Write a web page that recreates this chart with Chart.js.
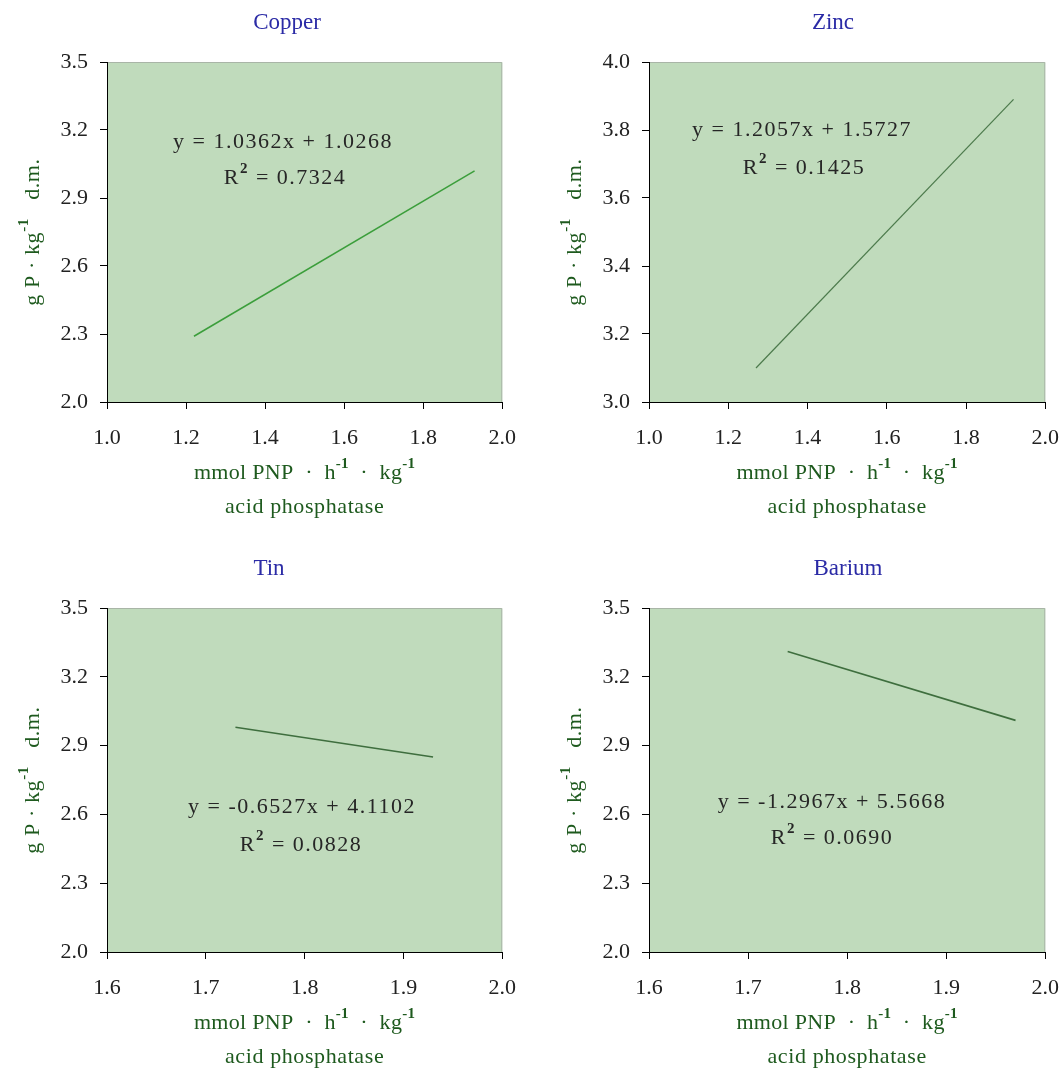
<!DOCTYPE html>
<html>
<head>
<meta charset="utf-8">
<title>Acid phosphatase vs P content</title>
<script src="https://cdn.jsdelivr.net/npm/chart.js@4.4.1/dist/chart.umd.min.js"></script>
<style>
    html, body { margin: 0; padding: 0; background: #FFFFFF; overflow: hidden; }
    body { width: 1061px; height: 1083px; position: relative; }
    .panel { position: absolute; }
</style>
</head>
<body>
<div class="panel" id="p-copper" style="left:0;top:0;width:532px;height:540px"><canvas id="c-copper"></canvas></div>
<div class="panel" id="p-zinc" style="left:542px;top:0;width:533px;height:540px"><canvas id="c-zinc"></canvas></div>
<div class="panel" id="p-tin" style="left:0;top:546px;width:532px;height:537px"><canvas id="c-tin"></canvas></div>
<div class="panel" id="p-barium" style="left:542px;top:546px;width:533px;height:537px"><canvas id="c-barium"></canvas></div>

<script>
'use strict';

// Panel titles
var titles = ['Copper', 'Zinc', 'Tin', 'Barium'];

// Trend line end points
var copperX = [1.22, 1.93];
var copperY = [2.29, 3.02];
var zincX = [1.27, 1.92];
var zincY = [3.10, 3.89];
var tinX = [1.73, 1.93];
var tinY = [2.98, 2.85];
var bariumX = [1.74, 1.97];
var bariumY = [3.31, 3.01];

// Regression labels
var equations = ['y = 1.0362x + 1.0268', 'y = 1.2057x + 1.5727', 'y = -0.6527x + 4.1102', 'y = -1.2967x + 5.5668'];
var rSquared = ['0.7324', '0.1425', '0.0828', '0.0690'];

// Tick labels
var xTicksWide = [1.0, 1.2, 1.4, 1.6, 1.8, 2.0];
var xTicksNarrow = [1.6, 1.7, 1.8, 1.9, 2.0];
var yTicksP = [2.0, 2.3, 2.6, 2.9, 3.2, 3.5];
var yTicksZinc = [3.0, 3.2, 3.4, 3.6, 3.8, 4.0];

var SERIF = "'Liberation Serif', 'Times New Roman', serif";
var AXIS_GREEN = '#1E5A1E';

Chart.defaults.font.family = SERIF;
Chart.defaults.animation = false;

/**
 * Draw a row of text runs, some of them superscript, centred on x
 */
function drawRuns(ctx, runs, x, y, size, color, spacing) {
    var supSize = Math.round(size * 0.68);
    var widths = [];
    var total = 0;
    ctx.save();
    ctx.letterSpacing = (spacing || 0) + 'px';
    runs.forEach(function(run) {
        ctx.font = (run.sup ? 'bold ' + supSize : size) + 'px ' + SERIF;
        var w = ctx.measureText(run.t).width;
        widths.push(w);
        total += w;
    });
    var cx = x - total / 2;
    ctx.fillStyle = color;
    ctx.textBaseline = 'middle';
    ctx.textAlign = 'left';
    runs.forEach(function(run, i) {
        ctx.font = (run.sup ? 'bold ' + supSize : size) + 'px ' + SERIF;
        ctx.fillText(run.t, cx, run.sup ? y - size * 0.42 : y);
        cx += widths[i];
    });
    ctx.restore();
}

// Background, frame and all texts of one panel
var panelDecor = {
    id: 'panelDecor',
    beforeDraw: function(chart, args, opts) {
        var a = chart.chartArea;
        var ctx = chart.ctx;
        ctx.save();
        ctx.fillStyle = '#C0DBBC';
        ctx.fillRect(a.left, a.top, a.right - a.left, a.bottom - a.top);
        ctx.strokeStyle = '#A9B5A7';
        ctx.lineWidth = 1;
        ctx.beginPath();
        ctx.moveTo(a.left, a.top + 0.5);
        ctx.lineTo(a.right - 0.5, a.top + 0.5);
        ctx.lineTo(a.right - 0.5, a.bottom);
        ctx.stroke();
        ctx.restore();
    },
    afterDraw: function(chart, args, opts) {
        var a = chart.chartArea;
        var ctx = chart.ctx;
        var midX = (a.left + a.right) / 2;
        var midY = (a.top + a.bottom) / 2;

        // title
        drawRuns(ctx, [{ t: opts.title }], opts.titleX, a.top - 39, 23, '#2B2BA6', 0);

        // regression equation and R squared
        drawRuns(ctx, [{ t: opts.equation }], a.left + opts.eqPos[0], a.top + opts.eqPos[1], 22, '#262626', 1.5);
        drawRuns(ctx, [{ t: 'R' }, { t: '2', sup: true }, { t: ' = ' + opts.r2 }],
            a.left + opts.r2Pos[0], a.top + opts.r2Pos[1], 22, '#262626', 1.5);

        // x axis title
        drawRuns(ctx, [{ t: 'mmol PNP  \u00B7  h' }, { t: '-1', sup: true }, { t: '  \u00B7  kg' }, { t: '-1', sup: true }],
            midX, a.bottom + 71, 22, AXIS_GREEN, 0.3);
        drawRuns(ctx, [{ t: 'acid phosphatase' }], midX, a.bottom + 105, 22, AXIS_GREEN, 0.6);

        // y axis title
        ctx.save();
        ctx.translate(33, midY);
        ctx.rotate(-Math.PI / 2);
        drawRuns(ctx, [{ t: 'g P \u00B7 kg' }, { t: '-1', sup: true }, { t: '   d.m.' }], 0, 0, 22, AXIS_GREEN, 0.6);
        ctx.restore();
    }
};

/**
 * Build one panel chart
 */
function makePanel(canvasId, cfg) {
    var points = cfg.xs.map(function(x, i) {
        return { x: x, y: cfg.ys[i] };
    });

    return new Chart(document.getElementById(canvasId), {
        type: 'scatter',
        data: {
            datasets: [{
                data: points,
                showLine: true,
                borderColor: cfg.lineColor,
                borderWidth: cfg.lineWidth,
                pointRadius: 0,
                fill: false
            }]
        },
        plugins: [panelDecor],
        options: {
            responsive: true,
            maintainAspectRatio: false,
            layout: {
                padding: { top: 62, left: 0, right: 27, bottom: 0 }
            },
            plugins: {
                legend: { display: false },
                tooltip: { enabled: false },
                panelDecor: {
                    title: cfg.title,
                    titleX: cfg.titleX,
                    equation: cfg.equation,
                    r2: cfg.r2,
                    eqPos: cfg.eqPos,
                    r2Pos: cfg.r2Pos
                }
            },
            scales: {
                x: {
                    type: 'linear',
                    min: cfg.xTicks[0],
                    max: cfg.xTicks[cfg.xTicks.length - 1],
                    afterBuildTicks: function(scale) {
                        scale.ticks = cfg.xTicks.map(function(v) { return { value: v }; });
                    },
                    afterFit: function(scale) {
                        scale.height = cfg.xAxisHeight;
                    },
                    border: { display: true, color: '#000000', width: 1 },
                    grid: { display: true, drawOnChartArea: false, drawTicks: true, tickLength: 7, color: '#000000' },
                    ticks: {
                        padding: 16,
                        color: '#222222',
                        font: { size: 22 },
                        maxRotation: 0,
                        callback: function(v) { return Number(v).toFixed(1); }
                    }
                },
                y: {
                    type: 'linear',
                    min: cfg.yTicks[0],
                    max: cfg.yTicks[cfg.yTicks.length - 1],
                    afterBuildTicks: function(scale) {
                        scale.ticks = cfg.yTicks.map(function(v) { return { value: v }; });
                    },
                    afterFit: function(scale) {
                        scale.width = 107;
                    },
                    border: { display: true, color: '#000000', width: 1 },
                    grid: { display: true, drawOnChartArea: false, drawTicks: true, tickLength: 7, color: '#000000' },
                    ticks: {
                        padding: 12,
                        color: '#222222',
                        font: { size: 22 },
                        callback: function(v) { return Number(v).toFixed(1); }
                    }
                }
            }
        }
    });
}

makePanel('c-copper', {
    title: titles[0], titleX: 287,
    xs: copperX, ys: copperY, xTicks: xTicksWide, yTicks: yTicksP,
    lineColor: '#3B9E3B', lineWidth: 1.5, xAxisHeight: 138,
    equation: equations[0], r2: rSquared[0], eqPos: [176, 80], r2Pos: [178, 116]
});

makePanel('c-zinc', {
    title: titles[1], titleX: 291,
    xs: zincX, ys: zincY, xTicks: xTicksWide, yTicks: yTicksZinc,
    lineColor: '#4C7A4C', lineWidth: 1.2, xAxisHeight: 138,
    equation: equations[1], r2: rSquared[1], eqPos: [153, 68], r2Pos: [155, 106]
});

makePanel('c-tin', {
    title: titles[2], titleX: 269,
    xs: tinX, ys: tinY, xTicks: xTicksNarrow, yTicks: yTicksP,
    lineColor: '#3E6E3E', lineWidth: 1.6, xAxisHeight: 131,
    equation: equations[2], r2: rSquared[2], eqPos: [195, 199], r2Pos: [194, 237]
});

makePanel('c-barium', {
    title: titles[3], titleX: 306,
    xs: bariumX, ys: bariumY, xTicks: xTicksNarrow, yTicks: yTicksP,
    lineColor: '#3E6E3E', lineWidth: 1.6, xAxisHeight: 131,
    equation: equations[3], r2: rSquared[3], eqPos: [183, 194], r2Pos: [183, 230]
});
</script>
</body>
</html>
